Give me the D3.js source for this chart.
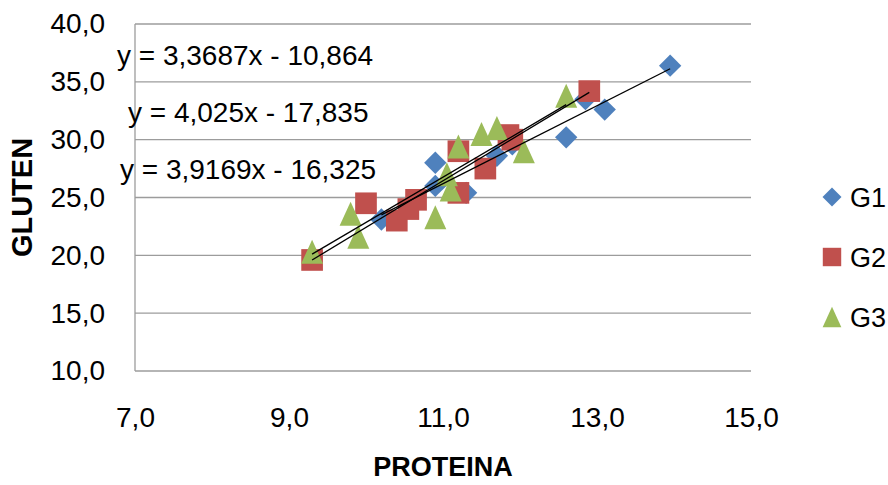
<!DOCTYPE html>
<html><head><meta charset="utf-8">
<script src="https://cdn.jsdelivr.net/npm/d3@7"></script>
<style>html,body{margin:0;padding:0;background:#fff;}svg{display:block;}</style>
</head><body>
<svg id="c" width="888" height="485"></svg>
<script>
const xTicks = [7, 9, 11, 13, 15];
const yTicks = [10, 15, 20, 25, 30, 35, 40];
const seriesNames = ["G1", "G2", "G3"];
const seriesColors = ["#4F81BD", "#C0504D", "#9BBB59"];
const g1x = [10.2, 10.9, 10.9, 11.3, 11.7, 11.9, 12.6, 12.85, 13.1, 13.95];
const g1y = [23.1, 26.0, 28.0, 25.4, 28.6, 29.6, 30.2, 33.5, 32.6, 36.4];
const g2x = [9.3, 10.0, 10.4, 10.55, 10.65, 11.2, 11.2, 11.55, 11.85, 11.9, 12.9];
const g2y = [19.6, 24.5, 23.0, 24.0, 24.8, 29.0, 25.4, 27.5, 30.4, 30.0, 34.2];
const g3x = [9.3, 9.8, 9.9, 10.9, 11.1, 11.05, 11.2, 11.5, 11.7, 12.05, 12.6];
const g3y = [20.3, 23.6, 21.6, 23.3, 25.7, 27.0, 29.4, 30.5, 31.0, 29.0, 33.8];
const slopes = [3.3687, 4.025, 3.9169];
const intercepts = [-10.864, -17.835, -16.325];
const equations = ["y = 3,3687x - 10,864", "y = 4,025x - 17,835", "y = 3,9169x - 16,325"];
const xTitle = "PROTEINA";
const yTitle = "GLUTEN";

const FONT = "'Liberation Sans', Arial, sans-serif";
const svg = d3.select("#c");
const L = 135, R = 751, T = 24, B = 371;
const x = d3.scaleLinear().domain([7, 15]).range([L, R]);
const y = d3.scaleLinear().domain([10, 40]).range([B, T]);
const fmt = d3.formatLocale({decimal: ",", thousands: ".", grouping: [3], currency: ["", ""]}).format(".1f");
const gridColor = "#9c9c9c";

// gridlines
svg.append("g").selectAll("line").data(yTicks.filter(v => v > 10)).join("line")
  .attr("x1", L).attr("x2", R).attr("y1", d => y(d)).attr("y2", d => y(d))
  .attr("stroke", gridColor).attr("stroke-width", 1.3);
// axis lines
svg.append("line").attr("x1", L).attr("x2", L).attr("y1", T).attr("y2", B).attr("stroke", gridColor).attr("stroke-width", 1.3);
svg.append("line").attr("x1", L).attr("x2", R).attr("y1", B).attr("y2", B).attr("stroke", gridColor).attr("stroke-width", 1.3);

// axes labels
const xa = svg.append("g").attr("transform", `translate(0,${B})`)
  .call(d3.axisBottom(x).tickValues(xTicks).tickFormat(fmt).tickSize(0).tickPadding(36));
const ya = svg.append("g").attr("transform", `translate(${L},0)`)
  .call(d3.axisLeft(y).tickValues(yTicks).tickFormat(fmt).tickSize(0).tickPadding(30));
[xa, ya].forEach(a => {
  a.select(".domain").remove();
  a.selectAll("text").attr("font-family", FONT).attr("font-size", 28).attr("fill", "#000");
});

// markers
const triangle = {draw(ctx, size) { const w = 11, h = 12; ctx.moveTo(0, -h); ctx.lineTo(w, h); ctx.lineTo(-w, h); ctx.closePath(); }};
const symbols = [
  d3.symbol().type(d3.symbolSquare).size(250),
  d3.symbol().type(d3.symbolSquare).size(470),
  d3.symbol().type(triangle)
];
const rotations = [45, 0, 0];
const xs = [g1x, g2x, g3x], ys = [g1y, g2y, g3y];
xs.forEach((xv, i) => {
  const pts = xv.map((v, j) => [v, ys[i][j]]);
  svg.append("g").selectAll("path").data(pts).join("path")
    .attr("d", symbols[i]())
    .attr("transform", d => `translate(${x(d[0])},${y(d[1])}) rotate(${rotations[i]})`)
    .attr("fill", seriesColors[i]);
});

// trendlines
xs.forEach((xv, i) => {
  const [a, b] = d3.extent(xv);
  svg.append("line")
    .attr("x1", x(a)).attr("y1", y(slopes[i] * a + intercepts[i]))
    .attr("x2", x(b)).attr("y2", y(slopes[i] * b + intercepts[i]))
    .attr("stroke", "#000").attr("stroke-width", 1.3);
});

// equation labels
const eqPos = [[117, 65], [128, 122], [120, 179]];
svg.append("g").selectAll("text").data(equations).join("text")
  .attr("x", (d, i) => eqPos[i][0]).attr("y", (d, i) => eqPos[i][1])
  .attr("font-family", FONT).attr("font-size", 28).attr("fill", "#000").text(d => d);

// axis titles
svg.append("text").attr("x", (L + R) / 2).attr("y", 476).attr("text-anchor", "middle")
  .attr("font-family", FONT).attr("font-size", 27).attr("font-weight", "bold").text(xTitle);
svg.append("text").attr("transform", `translate(32,${(T + B) / 2}) rotate(-90)`).attr("text-anchor", "middle")
  .attr("font-family", FONT).attr("font-size", 29).attr("font-weight", "bold").text(yTitle);

// legend
const legY = [197, 257, 317];
const lg = svg.append("g");
seriesNames.forEach((n, i) => {
  lg.append("path").attr("d", symbols[i]())
    .attr("transform", `translate(832,${legY[i]}) rotate(${rotations[i]}) scale(0.85)`)
    .attr("fill", seriesColors[i]);
  lg.append("text").attr("x", 850).attr("y", legY[i] + 10).attr("font-family", FONT).attr("font-size", 27).text(n);
});
</script>
</body></html>
